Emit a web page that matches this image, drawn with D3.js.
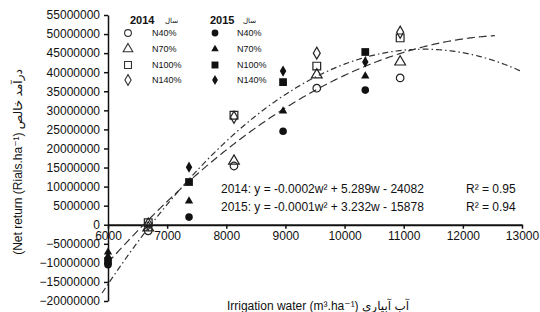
<!DOCTYPE html>
<html>
<head>
<meta charset="utf-8">
<script src="https://cdn.jsdelivr.net/npm/d3@7"></script>
<style>
  body { margin: 0; background: #fff; }
  text { font-family: "Liberation Sans", "DejaVu Sans", sans-serif; fill: #111; }
</style>
</head>
<body>
<div data-chart></div>
<script>
// irrigation water (m3/ha) for each year
const water2014 = [6680, 8130, 9530, 10940]
const water2015 = [6000, 7370, 8960, 10350]

// net return (Rials/ha) by nitrogen level
const n40_2014 = [-1600000, 15400000, 35800000, 38500000]
const n70_2014 = [-800000, 16700000, 39300000, 42700000]
const n100_2014 = [500000, 28700000, 41600000, 49000000]
const n140_2014 = [200000, 28200000, 45000000, 50500000]

const n40_2015 = [-10500000, 2000000, 24500000, 35300000]
const n70_2015 = [-7200000, 6200000, 29800000, 39000000]
const n100_2015 = [-9500000, 11200000, 37400000, 45300000]
const n140_2015 = [-8500000, 15100000, 40300000, 42700000]

const nLabels = ['N40%', 'N70%', 'N100%', 'N140%']
const yearLabels = ['2014', '2015']

// how far excel stretched the trend lines
const trendSpan2014 = [5900, 13000]
const trendSpan2015 = [6000, 12550]

const equations = [
    '2014: y = -0.0002w\u00b2 + 5.289w - 24082',
    '2015: y = -0.0001w\u00b2 + 3.232w - 15878'
]
const rSquared = ['R\u00b2 = 0.95', 'R\u00b2 = 0.94']

const xTicks = [6000, 7000, 8000, 9000, 10000, 11000, 12000, 13000]
const yTicks = d3.range(-20000000, 55000001, 5000000)

const width = 540, height = 312

const x = d3.scaleLinear().domain([6000, 13000]).range([108, 522])
const y = d3.scaleLinear().domain([-20000000, 55000000]).range([301, 15])

const svg = d3.select('[data-chart]').append('svg')
    .attr('width', width)
    .attr('height', height)

// least squares quadratic, w in thousands to keep numbers sane
function quadFit(ws, vs) {
    let s = [0, 0, 0, 0, 0], t = [0, 0, 0]
    ws.forEach((w, i) => {
        let u = w / 1000
        for (let k = 0; k < 5; k++) s[k] += Math.pow(u, k)
        for (let k = 0; k < 3; k++) t[k] += vs[i] * Math.pow(u, k)
    })
    let m = [
        [s[0], s[1], s[2], t[0]],
        [s[1], s[2], s[3], t[1]],
        [s[2], s[3], s[4], t[2]]
    ]
    for (let i = 0; i < 3; i++) {
        for (let j = i + 1; j < 3; j++) {
            let f = m[j][i] / m[i][i]
            for (let k = i; k < 4; k++) m[j][k] -= f * m[i][k]
        }
    }
    let c = [0, 0, 0]
    for (let i = 2; i >= 0; i--) {
        let sum = m[i][3]
        for (let k = i + 1; k < 3; k++) sum -= m[i][k] * c[k]
        c[i] = sum / m[i][i]
    }
    return w => c[0] + c[1] * (w / 1000) + c[2] * Math.pow(w / 1000, 2)
}

const series2014 = [n40_2014, n70_2014, n100_2014, n140_2014]
const series2015 = [n40_2015, n70_2015, n100_2015, n140_2015]

function flatten(ws, series) {
    let pts = []
    series.forEach((vals, k) => {
        vals.forEach((v, i) => pts.push({ w: ws[i], v: v, k: k }))
    })
    return pts
}

const pts2014 = flatten(water2014, series2014)
const pts2015 = flatten(water2015, series2015)

// axes
const yAxis = d3.axisLeft(y).tickValues(yTicks).tickSize(4).tickSizeOuter(0)
    .tickFormat(d3.format('d')).tickPadding(4)
const gy = svg.append('g').attr('transform', 'translate(108,0)').call(yAxis)
gy.select('.domain').attr('stroke', '#111').attr('stroke-width', 1.5)
gy.selectAll('.tick line').attr('stroke', '#111').attr('stroke-width', 1.5)
gy.selectAll('.tick text').style('font-size', '12px').attr('fill', '#222')

const xAxis = d3.axisBottom(x).tickValues(xTicks).tickSize(4).tickSizeOuter(0)
    .tickFormat(d3.format('d')).tickPadding(3)
const gx = svg.append('g').attr('transform', 'translate(0,' + y(0) + ')').call(xAxis)
gx.select('.domain').attr('stroke', '#111').attr('stroke-width', 2)
gx.selectAll('.tick line').attr('stroke', '#111').attr('stroke-width', 1.5)
gx.selectAll('.tick text').style('font-size', '12px').attr('fill', '#222')

// trend lines
const line = d3.line().x(d => x(d[0])).y(d => y(d[1]))
const trends = [
    { fit: quadFit(pts2014.map(p => p.w), pts2014.map(p => p.v)), span: trendSpan2014, dash: '6,3,1.5,3' },
    { fit: quadFit(pts2015.map(p => p.w), pts2015.map(p => p.v)), span: trendSpan2015, dash: '8,4' }
]
trends.forEach(t => {
    let data = d3.range(t.span[0], t.span[1] + 1, 20).map(w => [w, t.fit(w)])
    svg.append('path')
        .attr('d', line(data))
        .attr('fill', 'none')
        .attr('stroke', '#333')
        .attr('stroke-width', 1.2)
        .attr('stroke-dasharray', t.dash)
})

// markers
const shapes = [d3.symbolCircle, d3.symbolTriangle, d3.symbolSquare, d3.symbolDiamond]
const openSizes = [45, 50, 60, 42]
const filledSizes = [45, 30, 60, 36]

svg.append('g').selectAll('path')
    .data(pts2014)
    .enter().append('path')
    .attr('d', d => d3.symbol(shapes[d.k], openSizes[d.k])())
    .attr('transform', d => 'translate(' + x(d.w) + ',' + y(d.v) + ')')
    .attr('fill', 'none')
    .attr('stroke', '#222')
    .attr('stroke-width', 1.2)

svg.append('g').selectAll('path')
    .data(pts2015)
    .enter().append('path')
    .attr('d', d => d3.symbol(shapes[d.k], filledSizes[d.k])())
    .attr('transform', d => 'translate(' + x(d.w) + ',' + y(d.v) + ')')
    .attr('fill', '#111')

// legend
const legend = svg.append('g')
const legendRows = [33, 49, 65, 80]
const legendCols = [
    { sym: 128, txt: 152, head: 130, tag: 165, open: true },
    { sym: 215, txt: 237, head: 210, tag: 243, open: false }
]
legendCols.forEach((c, j) => {
    legend.append('text').attr('x', c.head).attr('y', 24)
        .style('font-size', '11px').style('font-weight', 'bold')
        .text(yearLabels[j])
    legend.append('text').attr('x', c.tag).attr('y', 23)
        .style('font-size', '7px').attr('fill', '#666')
        .text('سال')
    nLabels.forEach((lab, k) => {
        let sym = legend.append('path')
            .attr('d', d3.symbol(shapes[k], c.open ? openSizes[k] * 0.8 : filledSizes[k] * 0.8)())
            .attr('transform', 'translate(' + c.sym + ',' + legendRows[k] + ')')
        if (c.open) sym.attr('fill', 'none').attr('stroke', '#333').attr('stroke-width', 1.1)
        else sym.attr('fill', '#111')
        legend.append('text').attr('x', c.txt).attr('y', legendRows[k] + 3)
            .style('font-size', '9px').attr('fill', '#333')
            .text(lab)
    })
})

// equations
equations.forEach((eq, i) => {
    svg.append('text').attr('x', 221).attr('y', 193 + i * 18)
        .style('font-size', '12px').text(eq)
    svg.append('text').attr('x', 466).attr('y', 193 + i * 18)
        .style('font-size', '12px').text(rSquared[i])
})

// axis titles
svg.append('text')
    .attr('x', 318).attr('y', 310)
    .attr('text-anchor', 'middle')
    .style('font-size', '12px').attr('fill', '#222')
    .text('Irrigation water (m\u00b3.ha\u207b\u00b9) آب آبیاری')

svg.append('text')
    .attr('transform', 'translate(22,162)rotate(-90)')
    .attr('text-anchor', 'middle')
    .style('font-size', '12px').attr('fill', '#222')
    .text('(Net return (Rials.ha\u207b\u00b9) درآمد خالص')
</script>
</body>
</html>
